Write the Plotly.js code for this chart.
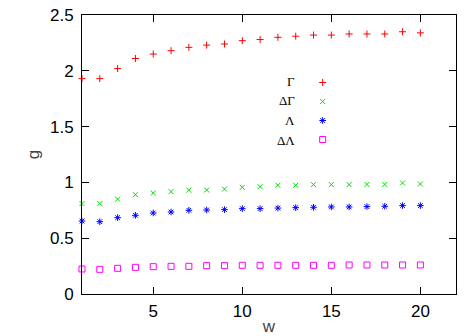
<!DOCTYPE html>
<html>
<head>
<meta charset="utf-8">
<script src="https://cdn.plot.ly/plotly-3.0.1.min.js"></script>
<style>
	html, body { margin: 0; padding: 0; background: #fff; }
	#chart { width: 471px; height: 336px; }
</style>
</head>
<body>
<div id="chart"></div>
<script>
const w = [1, 2, 3, 4, 5, 6, 7, 8, 9, 10, 11, 12, 13, 14, 15, 16, 17, 18, 19, 20];
const gamma = [1.93, 1.93, 2.02, 2.11, 2.15, 2.18, 2.21, 2.23, 2.24, 2.27, 2.28, 2.30, 2.31, 2.32, 2.32, 2.33, 2.33, 2.33, 2.35, 2.34];
const deltaGamma = [0.81, 0.81, 0.85, 0.89, 0.905, 0.917, 0.93, 0.932, 0.94, 0.956, 0.962, 0.974, 0.974, 0.98, 0.98, 0.98, 0.982, 0.982, 0.995, 0.986];
const lambda = [0.654, 0.648, 0.684, 0.705, 0.726, 0.735, 0.75, 0.753, 0.756, 0.765, 0.765, 0.77, 0.774, 0.777, 0.78, 0.78, 0.783, 0.786, 0.792, 0.792];
const deltaLambda = [0.224, 0.221, 0.23, 0.239, 0.245, 0.248, 0.248, 0.254, 0.254, 0.257, 0.257, 0.257, 0.257, 0.257, 0.257, 0.26, 0.26, 0.26, 0.26, 0.26];
const labels = ["Γ", "ΔΓ", "Λ", "ΔΛ"];

const series = [
	{ y: gamma, color: "#ff0000", symbol: "cross-thin-open", size: 5 },
	{ y: deltaGamma, color: "#00dd00", symbol: "x-thin-open", size: 5 },
	{ y: lambda, color: "#0000ff", symbol: "asterisk-open", size: 5.5 },
	{ y: deltaLambda, color: "#ff00ff", symbol: "square-open", size: 6 }
];

const traces = series.map((s, i) => ({
	x: w,
	y: s.y,
	type: "scatter",
	mode: "markers",
	name: labels[i],
	cliponaxis: false,
	marker: {
		symbol: s.symbol,
		size: s.size,
		color: s.color,
		line: { color: s.color, width: 1 }
	}
}));

// gnuplot style key: label on the left, sample on the right
const keyTop = 0.763, keyStep = 0.0705;
const annotations = labels.map((t, i) => ({
	text: t,
	xref: "paper",
	yref: "paper",
	x: 0.574,
	y: keyTop - i * keyStep,
	xanchor: "right",
	yanchor: "middle",
	showarrow: false,
	font: { family: "Liberation Serif", size: 13, color: "black" }
}));

const axis = {
	showline: true,
	linecolor: "black",
	linewidth: 1,
	mirror: "allticks",
	ticks: "inside",
	ticklen: 7,
	tickcolor: "black",
	showgrid: false,
	zeroline: false,
	tickfont: { family: "Liberation Sans", size: 17, color: "black" }
};

const layout = {
	width: 471,
	height: 336,
	margin: { l: 82, r: 15, t: 15, b: 42 },
	xaxis: {
		...axis,
		range: [1, 22],
		tickvals: [5, 10, 15, 20],
		ticklabelstandoff: 2,
		title: { text: "w", font: { family: "Liberation Sans", size: 17 }, standoff: 4 }
	},
	yaxis: {
		...axis,
		range: [0, 2.5],
		dtick: 0.5,
		ticklabelstandoff: 4,
		title: { text: "g", font: { family: "Liberation Sans", size: 17 }, standoff: 6 }
	},
	showlegend: true,
	legend: {
		x: 0.59,
		y: 0.81,
		xanchor: "left",
		yanchor: "top",
		bgcolor: "rgba(0,0,0,0)",
		font: { size: 12, color: "rgba(0,0,0,0)" },
		tracegroupgap: 0
	},
	annotations: annotations,
	paper_bgcolor: "white",
	plot_bgcolor: "white"
};

Plotly.newPlot("chart", traces, layout, { displayModeBar: false, staticPlot: true });
</script>
</body>
</html>
